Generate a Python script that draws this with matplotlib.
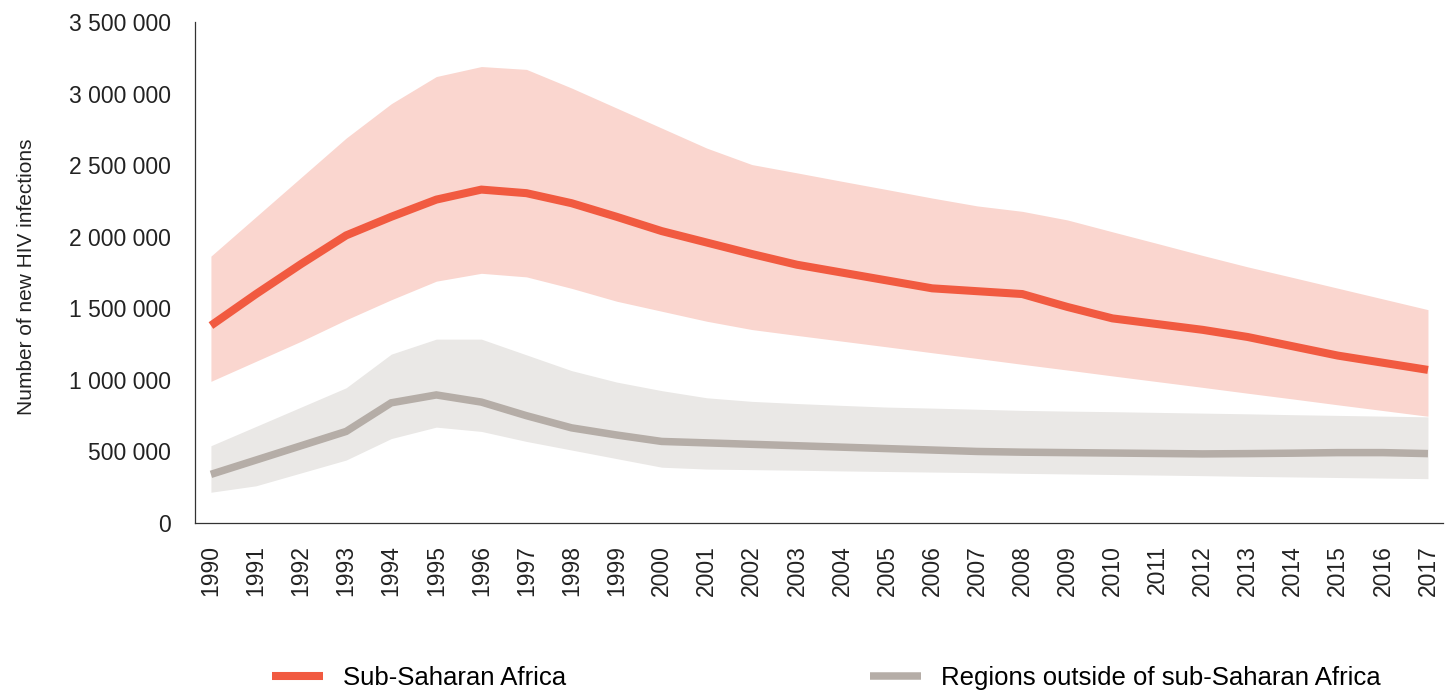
import numpy as np
import matplotlib.pyplot as plt
from matplotlib.ticker import FuncFormatter

plt.rcParams['font.family'] = ['Liberation Sans', 'DejaVu Sans']

years = list(range(1990, 2018))

# Sub-Saharan Africa: estimate + uncertainty band
ssa = [1380000, 1600000, 1810000, 2010000, 2140000, 2260000, 2330000, 2305000,
       2235000, 2140000, 2040000, 1960000, 1880000, 1805000, 1750000, 1695000,
       1640000, 1620000, 1600000, 1510000, 1430000, 1390000, 1350000, 1300000,
       1235000, 1170000, 1120000, 1070000]
ssa_hi = [1865000, 2140000, 2415000, 2690000, 2930000, 3120000, 3190000, 3170000,
          3040000, 2900000, 2760000, 2620000, 2505000, 2447000, 2388000, 2330000,
          2271000, 2216000, 2178000, 2118000, 2035000, 1953000, 1870000, 1790000,
          1716000, 1641000, 1566000, 1491000]
ssa_lo = [990000, 1130000, 1270000, 1420000, 1560000, 1690000, 1745000, 1720000,
          1640000, 1550000, 1480000, 1410000, 1352000, 1311000, 1271000, 1231000,
          1190000, 1150000, 1109000, 1069000, 1028000, 988000, 948000, 907000,
          867000, 826000, 786000, 746000]

# Regions outside of sub-Saharan Africa
oth = [340000, 440000, 540000, 640000, 840000, 895000, 845000, 750000,
       665000, 615000, 570000, 560000, 550000, 540000, 530000, 520000,
       510000, 500000, 495000, 492000, 489000, 486000, 483000, 485000,
       488000, 492000, 492000, 485000]
oth_hi = [540000, 675000, 810000, 945000, 1180000, 1285000, 1285000, 1175000,
          1065000, 985000, 925000, 875000, 850000, 835000, 822000, 810000,
          803000, 795000, 787000, 782000, 778000, 773000, 768000, 763000,
          757000, 752000, 747000, 742000]
oth_lo = [215000, 260000, 350000, 440000, 590000, 670000, 640000, 570000,
          510000, 450000, 390000, 377000, 373000, 369000, 364000, 360000,
          356000, 352000, 347000, 343000, 339000, 335000, 331000, 326000,
          322000, 318000, 314000, 310000]

red = '#F15A40'
red_fill = '#FAD6CF'
grey = '#B5ADA7'
grey_fill = '#EAE8E6'

fig = plt.figure(figsize=(14.45, 6.93), dpi=100)
ax = fig.add_axes([0.1349, 0.2453, 0.8637, 0.7227])

ax.fill_between(years, ssa_lo, ssa_hi, color=red_fill, lw=0)
ax.fill_between(years, oth_lo, oth_hi, color=grey_fill, lw=0)
ax.plot(years, ssa, color=red, lw=5.8, solid_capstyle='butt',
        solid_joinstyle='miter', label='Sub-Saharan Africa')
ax.plot(years, oth, color=grey, lw=5.4, solid_capstyle='butt',
        solid_joinstyle='miter', label='Regions outside of sub-Saharan Africa')

ax.set_xlim(1989.645, 2017.333)
ax.set_ylim(0, 3500000)
ax.set_yticks(np.arange(0, 3500001, 500000))
ax.yaxis.set_major_formatter(FuncFormatter(lambda v, p: f"{int(v):,}".replace(",", " ")))
ax.set_xticks(years)
ax.set_xticklabels([str(y) for y in years], rotation=90)
ax.tick_params(axis='both', length=0, labelsize=16.5, colors='#222222')
ax.tick_params(axis='y', pad=17)
ax.tick_params(axis='x', pad=16)

for s in ['top', 'right']:
    ax.spines[s].set_visible(False)
for s in ['left', 'bottom']:
    ax.spines[s].set_color('#333333')
    ax.spines[s].set_linewidth(0.9)

ax.set_ylabel('Number of new HIV infections', fontsize=15, color='#222222')
ax.yaxis.set_label_coords(-0.127, 0.491)

fig.legend(loc='center left', bbox_to_anchor=(272 / 1445, 15 / 693), ncol=2,
           frameon=False, fontsize=18.5, handlelength=2.0, handletextpad=0.78,
           columnspacing=11.8, borderpad=0, borderaxespad=0)

fig.savefig('out.png', dpi=100)
